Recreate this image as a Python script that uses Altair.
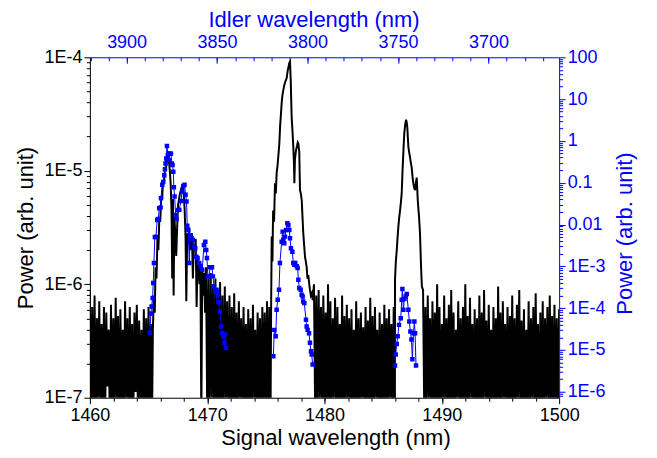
import altair as alt
import numpy as np
import pandas as pd

BLUE = "#0000ff"
FONT = "Liberation Sans"

# ---------------- data (log10 of power) ----------------
NOISE_STEP = 0.1  # nm sampling of the noise-floor stretches

noise_a_start = 1460.0
noise_a = [-6.05, -7.2, -6.2, -7.1, -6.1, -7.3, -6.3, -7.0, -6.15, -7.2,
           -6.35, -7.1, -6.2, -7.2, -6.25, -6.9, -6.4, -7.2, -6.18, -7.1,
           -6.3, -7.2, -6.12, -7.0, -6.28, -7.3, -6.22, -7.1, -6.4, -7.2,
           -6.15, -7.0, -6.3, -7.2, -6.2, -7.1, -6.35, -7.2, -6.25, -6.95,
           -6.18, -7.2, -6.32, -7.1, -6.4, -7.2, -6.22, -7.1, -6.3, -7.2,
           -6.2, -7.1, -6.35, -7.2]

noise_b_start = 1469.9
noise_b = [-5.85, -7.1, -5.95, -7.2, -5.9, -7.0, -6.0, -7.2, -5.95, -7.1,
           -6.05, -7.2, -5.98, -7.1, -6.1, -7.2, -6.02, -7.0, -6.15, -7.2,
           -6.1, -7.1, -6.2, -7.2, -6.08, -7.1, -6.25, -7.2, -6.15, -7.0,
           -6.3, -7.2, -6.2, -7.1, -6.35, -7.2, -6.22, -7.1, -6.3, -7.2,
           -6.18, -7.0, -6.4, -7.2, -6.25, -7.1, -6.3, -7.2, -6.2, -7.1,
           -6.25, -7.2, -6.15, -7.1, -6.2, -7.2]

noise_c_start = 1479.1
noise_c = [-6.0, -7.1, -6.1, -7.2, -6.05, -7.0, -6.2, -7.2, -6.1, -7.1,
           -6.25, -7.2, -6.0, -7.1, -6.15, -7.2, -6.3, -7.0, -6.12, -7.2,
           -6.2, -7.1, -6.35, -7.2, -6.1, -7.1, -6.28, -7.2, -6.18, -7.0,
           -6.3, -7.2, -6.22, -7.1, -6.4, -7.2, -6.15, -7.1, -6.3, -7.2,
           -6.25, -7.0, -6.38, -7.2, -6.2, -7.1, -6.32, -7.2, -6.12, -7.1,
           -6.28, -7.2, -6.2, -7.0, -6.4, -7.2, -6.25, -7.1, -6.35, -7.2,
           -6.18, -7.1, -6.3, -7.2, -6.22, -7.0, -6.35, -7.2, -6.2, -7.1]

noise_d_start = 1488.4
noise_d = [-6.05, -7.1, -6.2, -7.2, -6.1, -7.0, -6.3, -7.2, -6.15, -7.1,
           -6.25, -7.2, -6.0, -7.1, -6.2, -7.2, -6.35, -7.0, -6.1, -7.2,
           -6.3, -7.1, -6.18, -7.2, -6.05, -7.1, -6.25, -7.2, -6.4, -7.0,
           -6.15, -7.2, -6.3, -7.1, -6.2, -7.2, -6.0, -7.1, -6.28, -7.2,
           -6.12, -7.0, -6.35, -7.2, -6.22, -7.1, -6.3, -7.2, -6.1, -7.1,
           -6.25, -7.2, -6.05, -7.0, -6.32, -7.2, -6.18, -7.1, -6.4, -7.2,
           -6.2, -7.1, -6.3, -7.2, -6.02, -7.1, -6.25, -7.2, -6.15, -7.0,
           -6.35, -7.2, -6.2, -7.1, -6.28, -7.2, -6.1, -7.1, -6.3, -7.2,
           -6.18, -7.0, -6.05, -7.2, -6.32, -7.1, -6.22, -7.2, -6.4, -7.1,
           -6.15, -7.2, -6.3, -7.0, -6.2, -7.2, -6.08, -7.1, -6.35, -7.2,
           -6.25, -7.1, -6.15, -7.2, -6.3, -7.0, -6.2, -7.2, -6.1, -7.1,
           -6.28, -7.2, -6.18, -7.1, -6.3, -7.2, -6.22]

peak1_wl = [1465.37, 1465.45, 1465.53, 1465.6, 1465.68, 1465.76, 1465.84, 1465.92,
            1466.0, 1466.08, 1466.16, 1466.24, 1466.32, 1466.4, 1466.48, 1466.56,
            1466.64, 1466.72, 1466.8, 1466.88, 1466.96, 1467.02, 1467.08, 1467.14,
            1467.2, 1467.28, 1467.36, 1467.44, 1467.52, 1467.6, 1467.68, 1467.76,
            1467.84, 1467.92, 1468.0, 1468.08, 1468.16, 1468.22, 1468.3, 1468.38,
            1468.46, 1468.54, 1468.62, 1468.7, 1468.78, 1468.86, 1468.94, 1469.02,
            1469.1, 1469.18, 1469.26, 1469.34, 1469.42, 1469.5, 1469.58, 1469.66,
            1469.74, 1469.82]
peak1_lg = [-6.40, -6.10, -6.25, -5.85, -5.95, -5.60, -5.70, -5.42,
            -5.45, -5.22, -5.25, -5.08, -5.12, -4.97, -5.00, -4.88,
            -4.83, -4.90, -4.98, -5.10, -5.35, -5.95, -5.25, -6.10,
            -5.40, -5.55, -5.75, -5.50, -5.30, -5.25, -5.20, -5.17,
            -5.14, -5.12, -5.20, -5.35, -5.60, -6.15, -5.55, -5.65,
            -5.50, -5.70, -5.60, -5.55, -5.95, -5.65, -5.70, -5.60,
            -6.20, -5.75, -5.80, -6.00, -5.80, -7.20, -5.85, -6.10,
            -5.90, -6.25]

peak2_wl = [1475.45, 1475.5, 1475.56, 1475.62, 1475.7, 1475.78, 1475.85, 1475.92,
            1476.0, 1476.08, 1476.15, 1476.22, 1476.3, 1476.35, 1476.42, 1476.49,
            1476.56, 1476.64, 1476.72, 1476.78, 1476.86, 1476.94, 1477.0, 1477.06,
            1477.12, 1477.2, 1477.27, 1477.34, 1477.4, 1477.43, 1477.48, 1477.57,
            1477.66, 1477.72, 1477.77, 1477.85, 1477.91, 1477.98, 1478.06, 1478.12,
            1478.19, 1478.26, 1478.34, 1478.41, 1478.48, 1478.55, 1478.62, 1478.7,
            1478.76, 1478.84, 1478.92, 1479.0]
peak2_lg = [-6.20, -5.58, -5.80, -5.35, -5.45, -5.11, -5.20, -5.02,
            -4.95, -4.85, -4.76, -4.60, -4.48, -4.40, -4.33, -4.29,
            -4.25, -4.22, -4.20, -4.18, -4.12, -4.08, -4.05, -4.04,
            -4.20, -4.53, -4.65, -4.79, -4.95, -5.11, -4.90, -4.82,
            -4.78, -4.75, -4.76, -4.84, -5.17, -5.20, -5.26, -5.40,
            -5.55, -5.65, -5.76, -5.80, -5.85, -5.95, -5.92, -6.00,
            -6.05, -6.10, -6.08, -6.14]

peak3_wl = [1486.01, 1486.08, 1486.16, 1486.22, 1486.29, 1486.36, 1486.44, 1486.51,
            1486.58, 1486.65, 1486.72, 1486.76, 1486.8, 1486.87, 1486.95, 1487.0,
            1487.06, 1487.1, 1487.15, 1487.22, 1487.29, 1487.36, 1487.43, 1487.5,
            1487.57, 1487.64, 1487.72, 1487.79, 1487.86, 1487.95, 1488.0, 1488.06,
            1488.14, 1488.23, 1488.3]
peak3_lg = [-5.96, -5.80, -5.70, -5.60, -5.50, -5.42, -5.35, -5.28,
            -5.20, -5.00, -4.84, -4.75, -4.67, -4.60, -4.55, -4.57,
            -4.62, -4.70, -4.79, -4.84, -4.88, -4.93, -4.97, -5.05,
            -5.11, -5.15, -5.17, -5.10, -5.06, -5.26, -5.33, -5.41,
            -5.55, -5.85, -6.02]

# idler (blue, right axis), log10 of power
idl1_wl = [1465.12, 1465.20, 1465.26, 1465.35, 1465.40, 1465.46, 1465.54, 1465.63,
           1465.74, 1465.83, 1465.91, 1466.03, 1466.06, 1466.17, 1466.25, 1466.34,
           1466.40, 1466.45, 1466.51, 1466.57, 1466.65, 1466.74, 1466.82, 1466.91,
           1466.99, 1467.05, 1467.11, 1467.16, 1467.22, 1467.31, 1467.39, 1467.51,
           1467.62, 1467.76, 1467.87, 1467.96, 1468.07, 1468.16, 1468.24, 1468.30,
           1468.39, 1468.47, 1468.56, 1468.67, 1468.78, 1468.90, 1468.98, 1469.07,
           1469.18, 1469.30, 1469.44, 1469.58, 1469.72, 1469.84, 1469.92, 1469.98,
           1470.06, 1470.15, 1470.26, 1470.41, 1470.49, 1470.58, 1470.69, 1470.80,
           1470.89, 1470.97, 1471.09, 1471.20, 1471.29, 1471.37, 1471.46, 1471.54,
           1471.60]
idl1_lg = [-4.59, -4.13, -3.96, -3.76, -3.40, -2.92, -2.30, -2.30,
           -1.89, -1.87, -1.61, -1.59, -1.37, -1.05, -0.98, -0.82,
           -0.68, -0.54, -0.42, -0.12, -0.34, -0.46, -0.30, -0.31,
           -0.54, -0.58, -0.74, -1.11, -1.33, -1.77, -1.87, -1.65,
           -1.65, -1.44, -1.21, -1.08, -1.05, -1.29, -1.45, -2.03,
           -2.13, -2.92, -2.27, -2.33, -2.37, -2.53, -2.57, -2.77,
           -2.80, -2.92, -3.00, -3.08, -2.49, -2.41, -2.61, -2.80,
           -3.24, -3.24, -3.02, -3.02, -3.24, -3.48, -3.60, -3.56,
           -3.68, -3.86, -4.08, -4.44, -4.60, -4.67, -4.83, -4.63,
           -4.95]

idl2_wl = [1475.64, 1475.72, 1475.84, 1475.92, 1476.01, 1476.12, 1476.20, 1476.35,
           1476.43, 1476.49, 1476.57, 1476.63, 1476.72, 1476.83, 1476.92, 1477.00,
           1477.06, 1477.14, 1477.26, 1477.34, 1477.43, 1477.51, 1477.63, 1477.71,
           1477.77, 1477.85, 1477.97, 1478.05, 1478.14, 1478.19, 1478.28, 1478.42,
           1478.48, 1478.56, 1478.68, 1478.76, 1478.85, 1478.91, 1478.99]
idl2_lg = [-5.15, -4.52, -4.67, -4.04, -3.80, -3.56, -2.92, -2.41,
           -2.17, -2.37, -2.45, -2.29, -2.13, -1.97, -2.01, -2.13,
           -2.33, -2.57, -2.65, -2.92, -2.96, -2.92, -3.00, -3.04,
           -3.32, -3.52, -3.56, -3.68, -3.72, -3.84, -3.88, -4.28,
           -4.44, -4.52, -4.60, -4.83, -5.03, -5.11, -5.35]

idl3_wl = [1486.01, 1486.07, 1486.16, 1486.24, 1486.35, 1486.50, 1486.58, 1486.64,
           1486.72, 1486.81, 1486.92, 1487.01, 1487.15, 1487.23, 1487.32, 1487.41,
           1487.49, 1487.58, 1487.66, 1487.72, 1487.80]
idl3_lg = [-5.37, -5.11, -4.86, -4.67, -4.40, -4.24, -3.80, -3.54,
           -4.04, -3.78, -3.72, -3.66, -4.04, -4.32, -4.56, -4.75,
           -5.22, -4.60, -4.32, -4.60, -5.37]

# axis tick values
sig_ticks = [1460, 1470, 1480, 1490, 1500]
sig_minor = list(range(1462, 1500, 2))
idl_ticks = [3900, 3850, 3800, 3750, 3700]
idl_minor = list(range(3670, 3921, 10))
left_ticks = [1e-7, 1e-6, 1e-5, 1e-4]
right_ticks = [1e-6, 1e-5, 1e-4, 1e-3, 0.01, 0.1, 1, 10, 100]
left_minor = [k * 10.0 ** e for e in (-7, -6, -5) for k in range(2, 10)]
right_minor = [k * 10.0 ** e for e in range(-7, 2) for k in range(2, 10)
               if k * 10.0 ** e > 7.3e-7]

# ---------------- tables ----------------
def noise(start, vals):
    return pd.DataFrame({"wl": np.round(start + NOISE_STEP * np.arange(len(vals)), 3),
                         "lg": vals})

def trace(wl, lg):
    return pd.DataFrame({"wl": wl, "lg": lg})

black = pd.concat([noise(noise_a_start, noise_a), trace(peak1_wl, peak1_lg),
                   noise(noise_b_start, noise_b), trace(peak2_wl, peak2_lg),
                   noise(noise_c_start, noise_c), trace(peak3_wl, peak3_lg),
                   noise(noise_d_start, noise_d)], ignore_index=True)
black["p"] = 10.0 ** black["lg"]

blue = pd.concat([trace(idl1_wl, idl1_lg).assign(grp="a"),
                  trace(idl2_wl, idl2_lg).assign(grp="b"),
                  trace(idl3_wl, idl3_lg).assign(grp="c")], ignore_index=True)
blue["p"] = 10.0 ** blue["lg"]

# ---------------- scales ----------------
sig_scale = alt.Scale(domain=[1460, 1500], nice=False, zero=False)
idl_scale = alt.Scale(domain=[3661, 3920.3], reverse=True, nice=False, zero=False)
left_scale = alt.Scale(type="log", domain=[1e-7, 1e-4], nice=False)
right_scale = alt.Scale(type="log", domain=[10 ** -6.143, 100], nice=False)

log_label = "'1E' + round(log(datum.value) / LN10)"
right_label = ("datum.value >= 1 ? format(datum.value, 'd') : "
               "datum.value >= 0.01 ? format(datum.value, '.2~f') : " + log_label)

black_line = alt.Chart(black).mark_line(color="black", strokeWidth=2.0, clip=True).encode(
    x=alt.X("wl:Q", scale=sig_scale, axis=alt.Axis(
        orient="bottom", values=sig_ticks, format="d", tickSize=6, labelPadding=17,
        labelBaseline="alphabetic", labelFlush=False, labelOverlap=False,
        domainColor="black", tickColor="black", labelColor="black", titleColor="black",
        title="Signal wavelength (nm)", titleX=246, titleY=47, titleBaseline="alphabetic",
        zindex=1)),
    y=alt.Y("p:Q", scale=left_scale, axis=alt.Axis(
        orient="left", values=left_ticks, labelExpr=log_label, tickSize=6, labelPadding=2,
        labelFlush=False, labelOverlap=False,
        domainColor="black", tickColor="black", labelColor="black", titleColor="black",
        title="Power (arb. unit)", titleAngle=270, titleX=-64, titleY=170.5,
        titleBaseline="middle", titleAlign="center", zindex=1)),
)

blue_line = alt.Chart(blue).mark_line(
    color=BLUE, strokeWidth=1, clip=True,
    point=alt.OverlayMarkDef(shape="square", size=20, filled=True, color=BLUE, opacity=1),
).encode(
    x=alt.X("wl:Q", scale=sig_scale, axis=None),
    y=alt.Y("p:Q", scale=right_scale, axis=alt.Axis(
        orient="right", values=right_ticks, labelExpr=right_label, tickSize=6,
        labelPadding=2, labelFlush=False, labelOverlap=False,
        domainColor=BLUE, tickColor=BLUE, labelColor=BLUE, titleColor=BLUE,
        title="Power (arb. unit)", titleAngle=270, titleX=65, titleY=176,
        titleBaseline="middle", titleAlign="center", zindex=1)),
    detail="grp:N",
)

top_main = alt.Chart(pd.DataFrame({"v": idl_ticks})).mark_point(opacity=0).encode(
    x=alt.X("v:Q", scale=idl_scale, axis=alt.Axis(
        orient="top", values=idl_ticks, format="d", ticks=False, tickSize=0,
        labelPadding=10, labelBaseline="alphabetic", labelFlush=False, labelOverlap=False,
        domainColor=BLUE, labelColor=BLUE, titleColor=BLUE,
        title="Idler wavelength (nm)", titleX=224, titleY=-31,
        titleBaseline="alphabetic", zindex=1)))

top_major = alt.Chart(pd.DataFrame({"v": idl_ticks})).mark_point(opacity=0).encode(
    x=alt.X("v:Q", scale=idl_scale, title=None, axis=alt.Axis(
        orient="top", offset=-6, values=idl_ticks, tickSize=6, labels=False,
        domain=False, tickColor=BLUE)))

top_minor = alt.Chart(pd.DataFrame({"v": idl_minor})).mark_point(opacity=0).encode(
    x=alt.X("v:Q", scale=idl_scale, title=None, axis=alt.Axis(
        orient="top", offset=-3.5, values=idl_minor, tickSize=3.5, labels=False,
        domain=False, tickColor=BLUE)))

bot_minor = alt.Chart(pd.DataFrame({"v": sig_minor})).mark_point(opacity=0).encode(
    x=alt.X("v:Q", scale=sig_scale, title=None, axis=alt.Axis(
        orient="bottom", values=sig_minor, tickSize=3.5, labels=False,
        domain=False, tickColor="black")))

left_min = alt.Chart(pd.DataFrame({"v": left_minor})).mark_point(opacity=0).encode(
    y=alt.Y("v:Q", scale=left_scale, title=None, axis=alt.Axis(
        orient="left", values=left_minor, tickSize=3.5, labels=False,
        domain=False, tickColor="black")))

right_min = alt.Chart(pd.DataFrame({"v": right_minor})).mark_point(opacity=0).encode(
    y=alt.Y("v:Q", scale=right_scale, title=None, axis=alt.Axis(
        orient="right", values=right_minor, tickSize=3.5, labels=False,
        domain=False, tickColor=BLUE)))

chart = alt.layer(
    black_line, blue_line, top_main, top_major, top_minor, bot_minor, left_min, right_min
).resolve_scale(
    x="independent", y="independent"
).properties(
    width=470, height=341,
    autosize=alt.AutoSizeParams(type="none"),
    padding={"left": 82, "top": 49, "right": 90, "bottom": 52},
).configure_view(
    stroke=None
).configure_axis(
    labelFont=FONT, titleFont=FONT, labelFontSize=18, titleFontSize=22,
    titleFontWeight="normal", grid=False, tickWidth=1, domainWidth=1,
)

chart.save("out.html", embed_options={"renderer": "svg", "actions": False})
